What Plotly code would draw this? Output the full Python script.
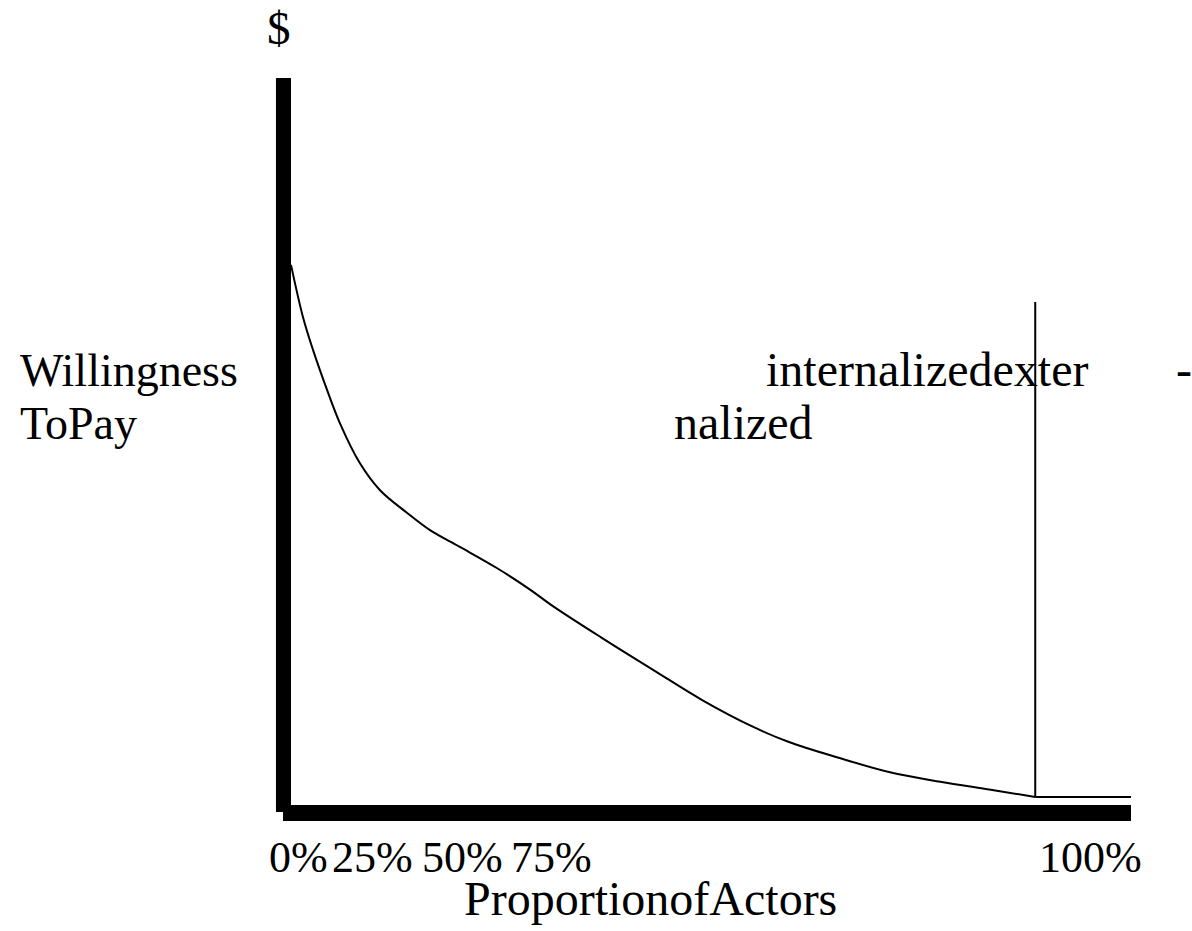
import plotly.graph_objects as go

# ---- data (proportion of actors in %, willingness to pay in arbitrary units) ----
curve_x = [0, 1.43, 2.62, 4.29, 5.83, 8.21, 10.6, 13.8, 16.55, 20.1, 24.5, 28.5, 31.0,
           37.0, 43.1, 49.0, 55.1, 59.2, 65.2, 71.3, 77.3, 83.3, 88.6]
curve_y = [74.3, 67.1, 62.6, 57.1, 52.5, 47.0, 43.3, 40.2, 37.8, 35.5, 32.6, 29.6, 27.5,
           23.0, 18.6, 14.4, 10.7, 8.7, 6.5, 4.5, 3.2, 2.1, 1.1]
flat_x = [88.6, 100]
flat_y = [1.1, 1.1]
cut_x = [88.6, 88.6]
cut_y = [1.1, 69.2]

tick_labels = ["0%", "25%", "50%", "75%", "100%"]
x_title = "ProportionofActors"
y_title_lines = ["Willingness", "ToPay"]
y_unit = "$"

W, H = 1192, 931
FONT = "Liberation Serif, Times New Roman, serif"

fig = go.Figure()
fig.add_trace(go.Scatter(x=curve_x, y=curve_y, mode="lines",
                         line=dict(color="black", width=2, shape="spline", smoothing=1.0),
                         hoverinfo="skip", showlegend=False))
fig.add_trace(go.Scatter(x=flat_x, y=flat_y, mode="lines",
                         line=dict(color="black", width=2), hoverinfo="skip", showlegend=False))
fig.add_trace(go.Scatter(x=cut_x, y=cut_y, mode="lines",
                         line=dict(color="black", width=2), hoverinfo="skip", showlegend=False))

# thick axis bars
fig.add_shape(type="rect", xref="x", yref="y", x0=-1.79, x1=0, y0=-0.96, y1=100,
              fillcolor="black", line=dict(width=0))
fig.add_shape(type="rect", xref="x", yref="y", x0=-0.95, x1=100, y0=-2.2, y1=0,
              fillcolor="black", line=dict(width=0))


def txt(s, px, baseline, fs, anchor="left"):
    fig.add_annotation(text=s, xref="paper", yref="paper",
                       x=px / W, y=1 - (baseline - 0.34 * fs) / H,
                       xanchor=anchor, yanchor="middle", showarrow=False,
                       font=dict(family=FONT, size=fs, color="black"), borderpad=0)


txt(y_unit, 279, 44, 47, anchor="center")
txt(y_title_lines[0], 19, 386, 46)
txt(y_title_lines[1], 19, 439, 46)
txt("internalizedexter", 765, 386, 48)
txt("-", 1175, 386, 48)
txt("nalized", 673, 439, 48)
tick_left_px = [268, 331, 421, 510, 1038]
for lab, px in zip(tick_labels, tick_left_px):
    txt(lab, px, 872, 44)
txt(x_title, 463, 915, 48)

fig.update_layout(width=W, height=H, autosize=False,
                  margin=dict(l=0, r=0, t=0, b=0, pad=0),
                  paper_bgcolor="white", plot_bgcolor="white",
                  xaxis=dict(range=[-291 / 8.4, (W - 291) / 8.4], visible=False, fixedrange=True),
                  yaxis=dict(range=[(805 - H) / 7.27, 805 / 7.27], visible=False, fixedrange=True))

fig.write_html("out.html", config={"displayModeBar": False},
               post_script="document.body.style.margin='0';")
